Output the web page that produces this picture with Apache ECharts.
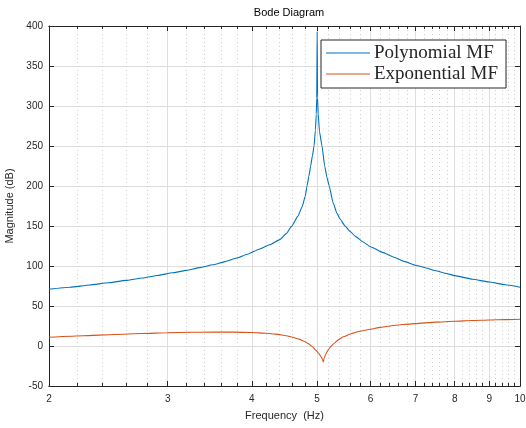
<!DOCTYPE html>
<html>
<head>
<meta charset="utf-8">
<script src="https://cdn.jsdelivr.net/npm/echarts@6/dist/echarts.min.js"></script>
<style>
html,body{margin:0;padding:0;background:#fff;}
#chart{width:526px;height:428px;}
</style>
</head>
<body>
<div id="chart"></div>
<script>
// ---- Data ----
const titleText = 'Bode Diagram';
const xName = 'Frequency  (Hz)';
const yName = 'Magnitude (dB)';
const seriesNames = ['Polynomial MF', 'Exponential MF'];

const majorTicks = [2, 3, 4, 5, 6, 7, 8, 9, 10];
const minorTicks = [2.2, 2.4, 2.6, 2.8, 3.2, 3.4, 3.6, 3.8, 4.2, 4.4, 4.6, 4.8,
  5.2, 5.4, 5.6, 5.8, 6.2, 6.4, 6.6, 6.8, 7.2, 7.4, 7.6, 7.8, 8.2, 8.4, 8.6, 8.8,
  9.2, 9.4, 9.6, 9.8];

const polyFreq = [2, 2.15, 2.3, 2.45, 2.6, 2.75, 2.9, 3.05, 3.2, 3.35, 3.5, 3.65, 3.8, 3.95,
  4.1, 4.25, 4.4, 4.5, 4.58, 4.68, 4.75, 4.8, 4.83, 4.86, 4.89, 4.92, 4.947, 4.97, 4.985, 4.993,
  5.0, 5.007, 5.018, 5.04, 5.084, 5.13, 5.17, 5.21, 5.28, 5.35, 5.41, 5.5, 5.6, 5.7, 5.85,
  6, 6.25, 6.5, 6.75, 7, 7.25, 7.5, 7.75, 8, 8.5, 9, 9.5, 10];
const polyMag = [71, 73.5, 76.3, 79, 82, 85, 88.2, 91.5, 94.5, 98, 101.5, 105.5, 110, 115,
  121, 126.5, 133, 140.5, 149.5, 162, 174, 187, 200, 212, 225, 238, 250, 270, 290, 310,
  393, 310, 290, 268, 250, 225, 211, 200, 179, 166, 158.5, 150, 143, 137, 130,
  124, 117, 111, 105.5, 101, 97.5, 94, 91, 88, 83.5, 80, 76.5, 73.5];

const expFreq = [2, 2.25, 2.5, 2.75, 3, 3.25, 3.5, 3.75, 4, 4.2, 4.35, 4.5, 4.6, 4.7, 4.78,
  4.85, 4.92, 4.98, 5.03, 5.07, 5.09, 5.106, 5.12, 5.15, 5.19, 5.24, 5.3, 5.38, 5.47, 5.6,
  5.78, 6, 6.2, 6.4, 6.7, 7, 7.5, 8, 8.5, 9, 9.5, 10];
const expMag = [11, 12.9, 14.4, 15.6, 16.5, 17.1, 17.4, 17.3, 16.8, 16, 14.8, 12.9, 11, 8.6, 6,
  3, -1, -5.5, -9.5, -13.5, -16.5, -20, -15.5, -10, -5, -0.5, 3.5, 8, 11.5, 15,
  18.5, 21, 23.3, 25, 26.8, 28, 29.8, 31, 31.8, 32.5, 33, 33.5];

const colors = ['#0072BD', '#D95319'];

// ---- Chart ----
const chart = echarts.init(document.getElementById('chart'), null, {renderer: 'canvas'});
const axisColor = '#262626';
const labelFont = 'Liberation Sans, Arial, Helvetica, sans-serif';

function xAx(pos, vals, opts) {
  return Object.assign({
    type: 'log', logBase: 10, min: 2, max: 10, position: pos,
    axisLine: {show: true, onZero: false, lineStyle: {color: axisColor, width: 1}},
    axisTick: {show: true, inside: true, length: 5, customValues: vals, lineStyle: {color: axisColor}},
    axisLabel: {show: false, customValues: vals},
    splitLine: {show: false},
    minorTick: {show: false}, minorSplitLine: {show: false}
  }, opts || {});
}

const option = {
  animation: false,
  backgroundColor: '#ffffff',
  color: colors,
  title: {
    text: titleText, left: 284, top: 2, textAlign: 'center',
    textStyle: {fontFamily: labelFont, fontSize: 11, fontWeight: 'normal', color: '#000'}
  },
  legend: {
    orient: 'vertical', left: 321, top: 40,
    data: seriesNames,
    icon: 'rect', itemWidth: 44, itemHeight: 1.2, itemGap: 1,
    padding: [3, 8, 4, 5],
    backgroundColor: '#fff', borderColor: axisColor, borderWidth: 1,
    textStyle: {fontFamily: 'Liberation Serif, DejaVu Serif, serif', fontSize: 19, color: '#262626', lineHeight: 20, padding: [0, 0, 0, -1]}
  },
  grid: {left: 49, right: 6, top: 26, bottom: 42, containLabel: false, outerBoundsMode: 'none'},
  xAxis: [
    xAx('bottom', majorTicks, {
      name: xName, nameLocation: 'middle', nameGap: 24,
      nameTextStyle: {fontFamily: labelFont, fontSize: 11, color: axisColor},
      axisLabel: {show: true, customValues: majorTicks, color: axisColor, fontFamily: labelFont, fontSize: 10, margin: 8,
        formatter: v => String(Math.round(v))},
      splitLine: {show: true, lineStyle: {color: '#dedede', width: 1}}
    }),
    xAx('bottom', minorTicks, {
      axisTick: {show: true, inside: true, length: 3, customValues: minorTicks, lineStyle: {color: axisColor}},
      splitLine: {show: true, lineStyle: {color: '#cfcfcf', width: 1, type: [1, 3]}}
    }),
    xAx('top', majorTicks),
    xAx('top', minorTicks, {
      axisTick: {show: true, inside: true, length: 3, customValues: minorTicks, lineStyle: {color: axisColor}}
    })
  ],
  yAxis: [
    {
      type: 'value', min: -50, max: 400, interval: 50, position: 'left',
      name: yName, nameLocation: 'middle', nameGap: 29, nameRotate: 90,
      nameTextStyle: {fontFamily: labelFont, fontSize: 11, color: axisColor},
      axisLine: {show: true, onZero: false, lineStyle: {color: axisColor, width: 1}},
      axisTick: {show: true, inside: true, length: 5, lineStyle: {color: axisColor}},
      axisLabel: {color: axisColor, fontFamily: labelFont, fontSize: 10, margin: 6},
      splitLine: {show: true, lineStyle: {color: '#dedede', width: 1}}
    },
    {
      type: 'value', min: -50, max: 400, interval: 50, position: 'right',
      axisLine: {show: true, onZero: false, lineStyle: {color: axisColor, width: 1}},
      axisTick: {show: true, inside: true, length: 5, lineStyle: {color: axisColor}},
      axisLabel: {show: false},
      splitLine: {show: false}
    }
  ],
  series: [
    {
      name: seriesNames[0], type: 'line', xAxisIndex: 0, yAxisIndex: 0,
      data: polyFreq.map((f, i) => [f, polyMag[i]]),
      symbol: 'none', smooth: 0.15, smoothMonotone: 'x', clip: true,
      lineStyle: {color: colors[0], width: 1.1}
    },
    {
      name: seriesNames[1], type: 'line', xAxisIndex: 0, yAxisIndex: 0,
      data: expFreq.map((f, i) => [f, expMag[i]]),
      symbol: 'none', smooth: 0.15, smoothMonotone: 'x', clip: true,
      lineStyle: {color: colors[1], width: 1.1}
    }
  ]
};
chart.setOption(option);
</script>
</body>
</html>
